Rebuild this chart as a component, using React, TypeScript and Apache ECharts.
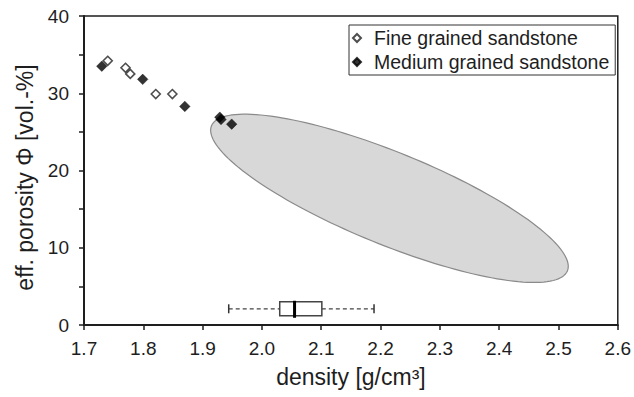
import React, { useEffect, useRef } from "react";
import * as echarts from "echarts";

// density [g/cm³], porosity [vol.-%]
const fineSandstone: number[][] = [
  [1.74, 34.2],
  [1.77, 33.3],
  [1.778, 32.5],
  [1.821, 29.9],
  [1.849, 29.9],
];
const mediumSandstone: number[][] = [
  [1.73, 33.5],
  [1.799, 31.8],
  [1.87, 28.3],
  [1.929, 26.9],
  [1.931, 26.6],
  [1.949, 26.0],
];
// ellipse: centre, end of one half-axis, end of the other half-axis (data units)
const ellipseCenter = [2.215, 16.4];
const ellipseMajorEnd = [2.515, 7.0];
const ellipseMinorEnd = [2.185, 10.9];
// box plot of density: whisker low, Q1, median, Q3, whisker high
const densityBox = [1.944, 2.03, 2.055, 2.101, 2.189];
const densityBoxLevel = 2.1;

const seriesNames = ["Fine grained sandstone", "Medium grained sandstone"];

const FONT = "'Liberation Sans', Arial, Helvetica, sans-serif";
const INK = "#1e1e1e";

export default function App() {
  const ref = useRef<HTMLDivElement>(null);
  useEffect(() => {
    document.body.style.margin = "0";
    if (!ref.current) return;
    const chart = echarts.init(ref.current, null, { renderer: "svg" });
    chart.setOption({
      animation: false,
      backgroundColor: "#ffffff",
      textStyle: { fontFamily: FONT },
      grid: {
        left: 84,
        right: 13.5,
        top: 16,
        bottom: 72,
        show: true,
        borderColor: INK,
        borderWidth: 1.5,
        backgroundColor: "transparent",
      },
      legend: {
        data: seriesNames,
        orient: "vertical",
        left: 349,
        top: 25,
        padding: [3, 6, 3, 3],
        itemGap: 4,
        itemWidth: 8,
        itemHeight: 8,
        borderColor: "#333",
        borderWidth: 1,
        backgroundColor: "#fff",
        textStyle: {
          fontFamily: FONT,
          fontSize: 19.5,
          color: INK,
          padding: [0, 0, 0, 8],
        },
      },
      xAxis: {
        type: "value",
        min: 1.7,
        max: 2.6,
        interval: 0.1,
        name: "density [g/cm³]",
        nameLocation: "middle",
        nameGap: 40,
        nameTextStyle: { fontFamily: FONT, fontSize: 23, color: INK },
        axisLine: { show: true, lineStyle: { color: INK, width: 2 } },
        axisTick: { show: true, length: 5, lineStyle: { color: INK, width: 1.5 } },
        axisLabel: {
          fontFamily: FONT,
          fontSize: 19,
          color: INK,
          margin: 14,
          formatter: (v: number) => v.toFixed(1),
        },
        splitLine: { show: false },
      },
      yAxis: {
        type: "value",
        min: 0,
        max: 40,
        interval: 10,
        name: "eff. porosity Φ [vol.-%]",
        nameLocation: "middle",
        nameGap: 48,
        nameTextStyle: { fontFamily: FONT, fontSize: 23, color: INK, padding: [0, 14, 0, 0] },
        axisLine: { show: true, lineStyle: { color: INK, width: 2 } },
        axisTick: { show: true, length: 5, lineStyle: { color: INK, width: 1.5 } },
        minorTick: { show: true, splitNumber: 2, length: 5, lineStyle: { color: INK, width: 1.5 } },
        axisLabel: { fontFamily: FONT, fontSize: 19, color: INK, margin: 15 },
        splitLine: { show: false },
        minorSplitLine: { show: false },
      },
      series: [
        {
          type: "custom",
          name: "ellipse",
          z: 1,
          silent: true,
          data: [[...ellipseCenter, ...ellipseMajorEnd, ...ellipseMinorEnd]],
          encode: { x: [0, 2, 4], y: [1, 3, 5] },
          renderItem: (_params: any, api: any) => {
            const c = api.coord([api.value(0), api.value(1)]);
            const m = api.coord([api.value(2), api.value(3)]);
            const n = api.coord([api.value(4), api.value(5)]);
            const ux = m[0] - c[0];
            const uy = m[1] - c[1];
            const vx = n[0] - c[0];
            const vy = n[1] - c[1];
            const pts: number[][] = [];
            const steps = 160;
            for (let i = 0; i < steps; i++) {
              const t = (i / steps) * Math.PI * 2;
              pts.push([
                c[0] + Math.cos(t) * ux + Math.sin(t) * vx,
                c[1] + Math.cos(t) * uy + Math.sin(t) * vy,
              ]);
            }
            return {
              type: "polygon",
              shape: { points: pts },
              style: { fill: "#d8d8d8", stroke: "#8a8a8a", lineWidth: 1.2 },
            };
          },
        },
        {
          type: "custom",
          name: "box",
          z: 3,
          silent: true,
          data: [[...densityBox, densityBoxLevel]],
          encode: { x: [0, 4], y: [5] },
          renderItem: (_params: any, api: any) => {
            const lv = api.value(5);
            const p = (i: number) => api.coord([api.value(i), lv]);
            const lo = p(0);
            const q1 = p(1);
            const med = p(2);
            const q3 = p(3);
            const hi = p(4);
            const cy = lo[1];
            const h = 7;
            const dash = { stroke: "#444", lineWidth: 1.2, lineDash: [4, 3] };
            const cap = { stroke: "#333", lineWidth: 1.5 };
            return {
              type: "group",
              children: [
                { type: "line", shape: { x1: lo[0], y1: cy, x2: q1[0], y2: cy }, style: dash },
                { type: "line", shape: { x1: q3[0], y1: cy, x2: hi[0], y2: cy }, style: dash },
                { type: "line", shape: { x1: lo[0], y1: cy - 4.5, x2: lo[0], y2: cy + 4.5 }, style: cap },
                { type: "line", shape: { x1: hi[0], y1: cy - 4.5, x2: hi[0], y2: cy + 4.5 }, style: cap },
                {
                  type: "rect",
                  shape: { x: q1[0], y: cy - h, width: q3[0] - q1[0], height: 2 * h },
                  style: { fill: "#fff", stroke: "#444", lineWidth: 1.5 },
                },
                {
                  type: "line",
                  shape: { x1: med[0], y1: cy - h - 1, x2: med[0], y2: cy + h + 2 },
                  style: { stroke: "#000", lineWidth: 3 },
                },
              ],
            };
          },
        },
        {
          type: "scatter",
          name: seriesNames[0],
          z: 4,
          data: fineSandstone,
          symbol: "diamond",
          symbolSize: 9,
          itemStyle: { color: "#ffffff", borderColor: "#222", borderWidth: 1.6 },
        },
        {
          type: "scatter",
          name: seriesNames[1],
          z: 5,
          data: mediumSandstone,
          symbol: "diamond",
          symbolSize: 10.5,
          itemStyle: { color: "#000000", borderColor: "#000", borderWidth: 0.5 },
        },
      ],
    });
    return () => chart.dispose();
  }, []);
  return <div ref={ref} style={{ width: 634, height: 397 }} />;
}
